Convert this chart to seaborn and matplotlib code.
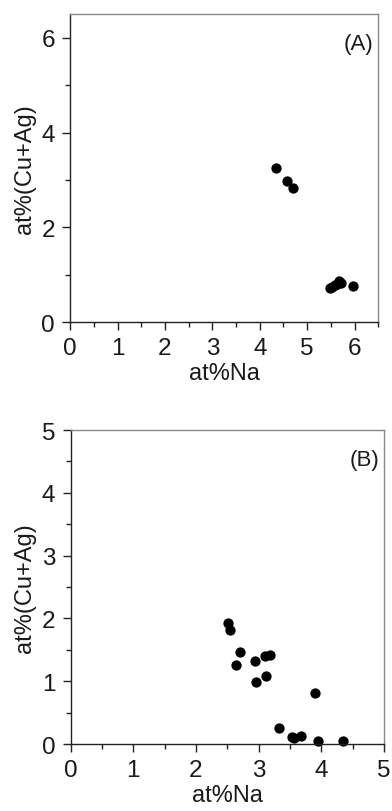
import matplotlib
matplotlib.use("Agg")
import matplotlib.pyplot as plt
import seaborn as sns
import pandas as pd
from matplotlib.ticker import MultipleLocator

sns.set_style("ticks")
plt.rcParams['font.family'] = ['Liberation Sans', 'DejaVu Sans']

# Panel A data
na_a = [4.35, 4.57, 4.71, 5.48, 5.53, 5.58, 5.63, 5.68, 5.72, 5.97]
cuag_a = [3.25, 2.98, 2.83, 0.72, 0.75, 0.78, 0.80, 0.86, 0.83, 0.77]

# Panel B data
na_b = [2.51, 2.54, 2.70, 2.63, 2.94, 2.96, 3.10, 3.18, 3.12, 3.89,
        3.32, 3.53, 3.56, 3.68, 3.95, 4.35]
cuag_b = [1.93, 1.82, 1.46, 1.26, 1.32, 0.98, 1.40, 1.42, 1.09, 0.81,
          0.25, 0.11, 0.09, 0.13, 0.05, 0.04]

df_a = pd.DataFrame({"na": na_a, "cuag": cuag_a})
df_b = pd.DataFrame({"na": na_b, "cuag": cuag_b})

fig = plt.figure(figsize=(3.92, 8.12), dpi=100)
ax_a = fig.add_axes([0.179, 0.602, 0.786, 0.3795])
ax_b = fig.add_axes([0.180, 0.0825, 0.800, 0.3867])

def style(ax, lim, ymaj, label):
    ax.set_xlim(0, lim)
    ax.set_ylim(0, lim)
    ax.xaxis.set_major_locator(MultipleLocator(1))
    ax.xaxis.set_minor_locator(MultipleLocator(0.5))
    ax.yaxis.set_major_locator(MultipleLocator(ymaj))
    ax.yaxis.set_minor_locator(MultipleLocator(ymaj / 2))
    ax.tick_params(which='major', direction='out', length=6, width=1.0,
                   labelsize=17.5, color='#222222', labelcolor='#1a1a1a', pad=5)
    ax.tick_params(which='minor', direction='out', length=3.5, width=1.0,
                   color='#222222')
    for s in ['left', 'bottom']:
        ax.spines[s].set_color('#222222')
        ax.spines[s].set_linewidth(1.0)
    for s in ['top', 'right']:
        ax.spines[s].set_visible(True)
        ax.spines[s].set_color('#888888')
        ax.spines[s].set_linewidth(1.0)
    ax.set_xlabel("at%Na", fontsize=17, color='#1a1a1a', labelpad=2)
    ax.set_ylabel("at%(Cu+Ag)", fontsize=17, color='#1a1a1a', labelpad=4)
    ax.text(0.985, 0.905, label, transform=ax.transAxes, ha='right',
            va='center', fontsize=16, color='#1a1a1a')

sns.scatterplot(data=df_a, x="na", y="cuag", ax=ax_a, color='black',
                s=55, edgecolor='black', linewidth=0, clip_on=False)
sns.scatterplot(data=df_b, x="na", y="cuag", ax=ax_b, color='black',
                s=55, edgecolor='black', linewidth=0, clip_on=False)

style(ax_a, 6.5, 2, "(A)")
style(ax_b, 5, 1, "(B)")

fig.savefig("out.png", dpi=100)
